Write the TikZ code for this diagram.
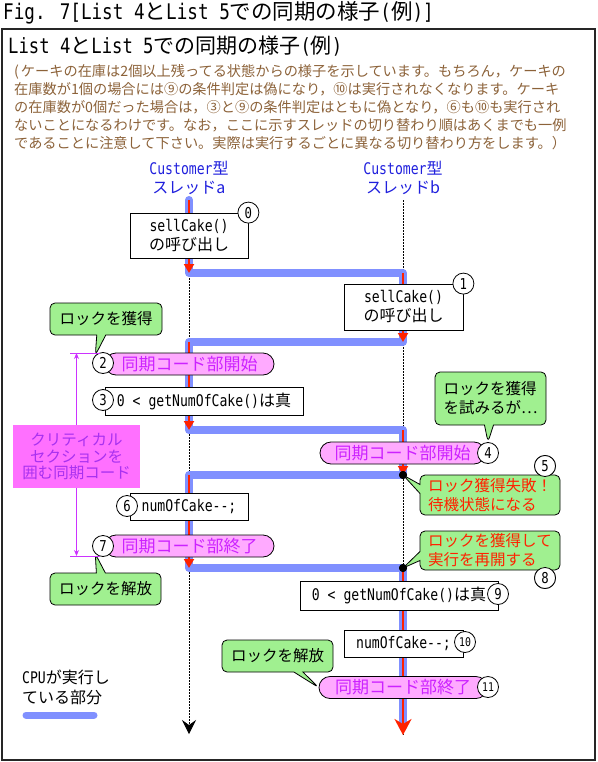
\documentclass[tikz,border=0pt]{standalone}
\usepackage{fontspec}
\setmainfont{Noto Sans CJK JP}
\newfontfamily\monof[FakeStretch=0.82]{DejaVu Sans Mono}
\usetikzlibrary{arrows.meta,shapes.misc,shapes.callouts}
\newcommand\mtx[1]{{\monof #1}}
\definecolor{cpublue}{HTML}{8090FF}
\definecolor{redl}{HTML}{FF2200}
\definecolor{brownt}{HTML}{8C6239}
\definecolor{gfill}{HTML}{A0F090}
\definecolor{pfill}{HTML}{FFAAFF}
\definecolor{ptext}{HTML}{CC22FF}
\definecolor{mfill}{HTML}{FF70FF}
\definecolor{mtext}{HTML}{A830F0}
\definecolor{mline}{HTML}{CC33FF}
\definecolor{tblue}{HTML}{2020DD}
\begin{document}
\begin{tikzpicture}[x=1pt,y=-1pt,
  cpu/.style={draw=cpublue, line width=8pt, line cap=round, line join=round},
  runseg/.style={draw=redl, line width=2pt, -{Triangle[width=10pt,length=9pt]}},
  thread/.style={draw=black, line width=0.8pt, dash pattern=on 1.5pt off 1.5pt},
  codebox/.style={draw, fill=white, line width=0.8pt, inner sep=0pt, align=center, font=\fontsize{16}{19}\selectfont},
  numc/.style={circle, draw, fill=white, line width=0.8pt, minimum size=21pt, inner sep=0pt, font=\monof\fontsize{15}{15}\selectfont},
  numcs/.style={numc, font=\monof\fontsize{12}{12}\selectfont},
  pill/.style={rounded rectangle, draw, line width=0.8pt, fill=pfill, text=ptext, minimum width=169pt, minimum height=22pt, inner sep=0pt, font=\fontsize{17}{17}\selectfont},
  gcall/.style={rectangle callout, draw, line width=0.8pt, fill=gfill, rounded corners=5pt, callout pointer width=9pt, align=left, inner sep=0pt, font=\fontsize{15.5}{19}\selectfont},
  blackdot/.style={circle, fill=black, minimum size=8pt, inner sep=0pt},
  magline/.style={draw=mline, line width=0.8pt},
  plain/.style={inner sep=0pt, anchor=west}
]
\useasboundingbox (0,0) rectangle (597,762);
\draw[line width=1.2pt, draw=black!85] (2,29) rectangle (595,760);

\node[plain, font=\fontsize{21.5}{21.5}\selectfont] (title) at (3,13) {\mtx{Fig. 7[List 4}と\mtx{List 5}での同期の様子\mtx{(}例\mtx{)]}};
\node[plain, font=\fontsize{21}{21}\selectfont] (head) at (8,46) {\mtx{List 4}と\mtx{List 5}での同期の様子\mtx{(}例\mtx{)}};
\node[plain, align=left, text=brownt, font=\fontsize{14.2}{18}\selectfont] (para) at (14,107) {(\kern2pt ケーキの在庫は2個以上残ってる状態からの様子を示しています。もちろん，ケーキの\\
在庫数が1個の場合には⑨の条件判定は偽になり，⑩は実行されなくなります。ケーキ\\
の在庫数が0個だった場合は，③と⑨の条件判定はともに偽となり，⑥も⑩も実行され\\
ないことになるわけです。なお，ここに示すスレッドの切り替わり順はあくまでも一例\\
であることに注意して下さい。実際は実行するごとに異なる切り替わり方をします。）};

\node[align=center, text=tblue, inner sep=0pt, font=\fontsize{16}{19}\selectfont] (ta) at (189,178) {\mtx{Customer}型\\スレッドa};
\node[align=center, text=tblue, inner sep=0pt, font=\fontsize{16}{19}\selectfont] (tb) at (403,178) {\mtx{Customer}型\\スレッドb};

% thread coordinates
\coordinate (a0) at (189,200);
\coordinate (a1) at (189,273);
\coordinate (b1) at (403,273);
\coordinate (b2) at (403,342);
\coordinate (a2) at (189,342);
\coordinate (a3) at (189,430);
\coordinate (b3) at (403,430);
\coordinate (b4) at (403,475);
\coordinate (a4) at (189,475);
\coordinate (a5) at (189,568);
\coordinate (b5) at (403,568);
\coordinate (b6) at (403,727);
\coordinate (b0) at (403,200);
\coordinate (aend) at (189,734);
\coordinate (bend) at (403,735);

\draw[thread, -{Stealth[width=14pt,length=14pt,inset=5pt]}] (a0) -- (aend);
\draw[thread] (b0) -- (bend);

\draw[cpu] (a0) -- (a1) -- (b1) -- (b2) -- (a2) -- (a3) -- (b3) -- (b4) -- (a4) -- (a5) -- (b5) -- (b6);

\draw[runseg] (a0) -- (a1);
\draw[runseg] (b1) -- (b2);
\draw[runseg] (a2) -- (a3);
\draw[runseg] (b3) -- (b4);
\draw[runseg] (a4) -- (a5);
\draw[draw=redl, line width=2pt, -{Stealth[width=17pt,length=16pt,inset=5pt]}] (b5) -- (bend);

% boxes and pills
\node[codebox, minimum width=118pt, minimum height=45pt] (bx0) at (189,235.5) {\mtx{sellCake()}\\の呼び出し};
\node[codebox, minimum width=119pt, minimum height=46pt] (bx1) at (403.5,307) {\mtx{sellCake()}\\の呼び出し};
\node[pill] (p2) at (189.5,364) {同期コード部開始};
\node[codebox, minimum width=198pt, minimum height=28pt] (bx3) at (204,401) {\mtx{0 < getNumOfCake()}は真};
\node[pill, minimum width=165pt] (p4) at (402.5,453) {同期コード部開始};
\node[codebox, minimum width=118pt, minimum height=27pt] (bx6) at (189,506.5) {\mtx{numOfCake-{}-;}};
\node[pill] (p7) at (189.5,546) {同期コード部終了};
\node[codebox, minimum width=198pt, minimum height=29pt] (bx9) at (399,595.5) {\mtx{0 < getNumOfCake()}は真};
\node[codebox, minimum width=119pt, minimum height=27pt] (bx10) at (403.5,643.5) {\mtx{numOfCake-{}-;}};
\node[pill, minimum width=168pt] (p11) at (403,687.5) {同期コード部終了};

\node[fill=mfill, text=mtext, minimum width=127pt, minimum height=63pt, align=center, inner sep=0pt, font=\fontsize{15.5}{16.5}\selectfont] (crit) at (76.5,456.5) {クリティカル\\セクションを\\囲む同期コード};

% numbered circles
\node[numc] (n0) at (bx0.north east) {0};
\node[numc] (n1) at (bx1.north east) {1};
\node[numc] (n2) at (103,363) {2};
\node[numc] (n3) at (103,400) {3};
\node[numc] (n4) at (488,453) {4};
\node[numc] (n5) at (545,466) {5};
\node[numc] (n6) at (127,506) {6};
\node[numc] (n7) at (103,546) {7};
\node[numc] (n8) at (545,578) {8};
\node[numc] (n9) at (498,594) {9};
\node[numcs] (n10) at (465,642) {10};
\node[numcs] (n11) at (488,687) {11};

% dots (positions)
\node[blackdot] (d1) at (b4) {};
\node[blackdot] (d2) at (b5) {};

% callouts
\node[gcall, minimum width=112pt, minimum height=32pt, callout absolute pointer={(n2.135)}] (cl1) at (106,319) {ロックを獲得};
\node[gcall, minimum width=111pt, minimum height=53pt, callout absolute pointer={(n4.north)}] (cl2) at (490.5,398.5) {ロックを獲得\\を試みるが⋯};
\node[gcall, text=redl, minimum width=140pt, minimum height=40pt, callout absolute pointer={(d1.center)}] (cl3) at (490,495) {ロック獲得失敗！\\待機状態になる};
\node[gcall, text=redl, minimum width=140pt, minimum height=39pt, callout absolute pointer={(d2.center)}] (cl4) at (490,550.5) {ロックを獲得して\\実行を再開する};
\node[gcall, minimum width=111pt, minimum height=32pt, callout absolute pointer={(n7.225)}] (cl5) at (105.5,589) {ロックを解放};
\node[gcall, minimum width=111pt, minimum height=32pt, callout absolute pointer={(p11.west)}] (cl6) at (277.5,656) {ロックを解放};

\node[blackdot] at (d1) {};
\node[blackdot] at (d2) {};
\node[numc] at (n5) {5};
\node[numc] at (n8) {8};

% critical section bracket
\coordinate (mtl) at (70,353);
\coordinate (mtr) at (100,353);
\coordinate (mbl) at (70,556);
\coordinate (mbr) at (100,556);
\coordinate (mt) at (76.5,353);
\coordinate (mb) at (76.5,556);
\draw[magline] (mtl) -- (mtr);
\draw[magline] (mbl) -- (mbr);
\draw[magline, -{Stealth[length=6pt,width=5pt]}] (crit.north) -- (mt);
\draw[magline, -{Stealth[length=6pt,width=5pt]}] (crit.south) -- (mb);

% legend
\node[plain, align=left, font=\fontsize{16}{20}\selectfont] (leg) at (22,687) {\mtx{CPU}が実行し\\ている部分};
\coordinate (lg1) at (26,715);
\coordinate (lg2) at (94,715);
\draw[cpu, line width=7pt] (lg1) -- (lg2);
\end{tikzpicture}
\end{document}
